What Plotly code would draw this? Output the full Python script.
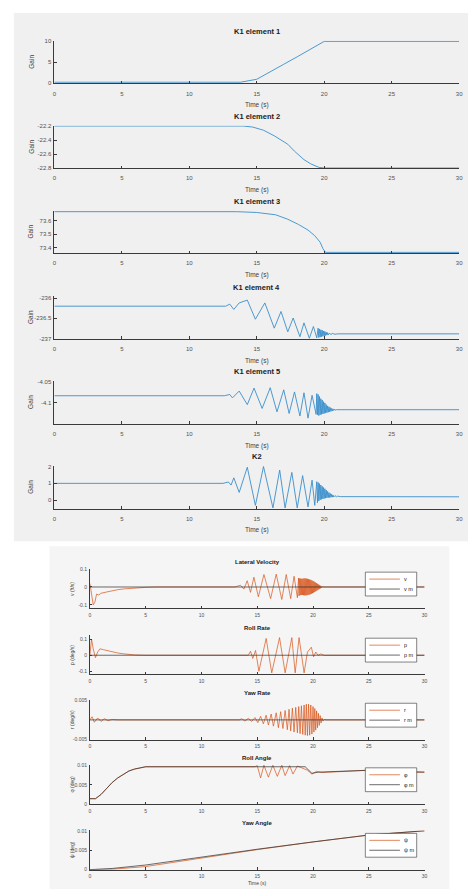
import plotly.graph_objects as go

W, H = 475, 892

# ---------------- data ----------------
x_ticks = [0, 5, 10, 15, 20, 25, 30]

k1e1_t = [0, 13.8, 15, 16, 17, 18, 19, 20, 30]
k1e1_v = [0.2, 0.2, 0.9, 2.8, 4.5, 6.3, 8.1, 10, 10]

k1e2_t = [0, 14.0, 14.7, 15.5, 16.3, 17.3, 17.8, 18.5, 19.0, 19.6, 20.0, 30]
k1e2_v = [-22.2, -22.2, -22.215, -22.26, -22.34, -22.46, -22.56, -22.68, -22.74, -22.79, -22.8, -22.8]

k1e3_t = [0, 13.5, 15.0, 16.4, 17.3, 18.1, 18.8, 19.3, 19.7, 19.9, 20.1, 30]
k1e3_v = [73.666, 73.666, 73.66, 73.643, 73.61, 73.571, 73.53, 73.488, 73.44, 73.393, 73.365, 73.365]

k1e4_t = [0, 12.7, 13.0, 13.3, 13.7, 14.3, 14.9, 15.6, 16.3, 16.8, 17.3, 17.7, 18.2, 18.5, 18.9,
          19.2, 19.45, 19.55, 19.6, 19.65, 19.7, 19.75, 19.8, 19.85, 19.9, 19.95, 20.0, 20.05,
          20.1, 20.15, 20.2, 20.25, 20.3, 20.4, 20.5, 20.6, 20.8, 21.0, 30]
k1e4_v = [-236.2, -236.2, -236.15, -236.28, -236.12, -236.05, -236.52, -236.12, -236.74, -236.33,
          -236.83, -236.49, -236.95, -236.61, -236.99, -236.70, -236.98, -236.74, -236.97, -236.76,
          -236.96, -236.78, -236.95, -236.79, -236.94, -236.81, -236.93, -236.82, -236.92, -236.84,
          -236.91, -236.85, -236.905, -236.86, -236.9, -236.87, -236.89, -236.88, -236.88]

k1e5_t = [0, 12.6, 13.0, 13.2, 13.7, 14.3, 14.8, 15.4, 16.0, 16.5, 17.0, 17.4, 17.8, 18.2, 18.5,
          18.8, 19.1, 19.4, 19.45, 19.5, 19.55, 19.6, 19.65, 19.7, 19.75, 19.8, 19.85, 19.9, 19.95,
          20.0, 20.05, 20.1, 20.15, 20.2, 20.25, 20.3, 20.35, 20.4, 20.45, 20.5, 20.55, 20.6, 20.65,
          20.7, 20.75, 20.8, 20.9, 30]
k1e5_v = [-4.083, -4.083, -4.080, -4.088, -4.072, -4.104, -4.065, -4.113, -4.064, -4.121, -4.069,
          -4.125, -4.074, -4.131, -4.076, -4.136, -4.082, -4.127, -4.078, -4.128, -4.080, -4.130,
          -4.085, -4.128, -4.090, -4.127, -4.093, -4.126, -4.097, -4.125, -4.100, -4.124, -4.104,
          -4.123, -4.107, -4.122, -4.109, -4.121, -4.111, -4.120, -4.113, -4.119, -4.114, -4.118,
          -4.115, -4.117, -4.116, -4.116]

k2_t = [0, 12.5, 12.9, 13.1, 13.3, 13.7, 14.3, 14.9, 15.5, 16.2, 16.7, 17.1, 17.6, 18.0, 18.4,
        18.8, 19.1, 19.3, 19.45, 19.5, 19.55, 19.6, 19.65, 19.7, 19.75, 19.8, 19.85, 19.9, 19.95,
        20.0, 20.05, 20.1, 20.15, 20.2, 20.25, 20.3, 20.35, 20.4, 20.45, 20.5, 20.55, 20.6, 20.65,
        20.7, 20.8, 20.9, 21.0, 21.2, 30]
k2_v = [1.0, 1.0, 1.08, 0.9, 1.33, 0.46, 1.96, -0.31, 2.0, -0.46, 1.79, -0.46, 1.65, -0.46, 1.46,
        -0.40, 1.19, -0.31, 1.1, -0.15, 1.05, -0.05, 0.98, 0.02, 0.9, 0.05, 0.82, 0.08, 0.75, 0.1,
        0.68, 0.12, 0.6, 0.14, 0.52, 0.15, 0.45, 0.16, 0.4, 0.17, 0.35, 0.18, 0.31, 0.19, 0.27,
        0.2, 0.24, 0.21, 0.2]

lv_t = [0, 0.15, 0.3, 0.45, 0.6, 0.8, 1.0, 1.5, 2, 2.5, 3, 3.5, 4, 5, 6, 13.0, 13.5, 13.8, 14.1,
        14.4, 14.7, 15.1, 15.6, 16.2, 16.7, 17.2, 17.6, 18.0, 18.3, 18.6, 18.7, 18.75, 18.8, 18.85,
        18.9, 18.95, 19.0, 19.05, 19.1, 19.15, 19.2, 19.25, 19.3, 19.35, 19.4, 19.45, 19.5, 19.55,
        19.6, 19.65, 19.7, 19.75, 19.8, 19.85, 19.9, 19.95, 20.0, 20.05, 20.1, 20.15, 20.2, 20.25,
        20.3, 20.35, 20.4, 20.45, 20.5, 20.55, 20.6, 20.65, 20.7, 20.75, 20.8, 20.9, 30]
lv_v = [0.02, -0.03, -0.1, -0.085, -0.04, -0.045, -0.035, -0.028, -0.02, -0.015, -0.011, -0.008,
        -0.005, -0.002, 0, 0, 0.01, -0.012, 0.035, -0.03, 0.055, -0.055, 0.07, -0.065, 0.072, -0.07,
        0.07, -0.065, 0.06, -0.06, 0.05, -0.05, 0.048, -0.046, 0.047, -0.045, 0.046, -0.045, 0.047,
        -0.046, 0.048, -0.047, 0.048, -0.047, 0.047, -0.046, 0.046, -0.045, 0.044, -0.043, 0.042,
        -0.041, 0.04, -0.038, 0.037, -0.035, 0.034, -0.032, 0.03, -0.028, 0.026, -0.024, 0.022,
        -0.02, 0.018, -0.016, 0.014, -0.012, 0.01, -0.008, 0.006, -0.004, 0.002, 0, 0]
lv_ref_t = [0, 30]
lv_ref_v = [0, 0]

rr_t = [0, 0.15, 0.3, 0.5, 0.7, 0.9, 1.2, 1.6, 2.0, 2.5, 3.0, 3.5, 4.0, 5, 14.2, 14.4, 14.6, 14.85,
        15.15, 15.8, 16.3, 17.0, 17.5, 18.1, 18.4, 18.75, 19.2, 19.5, 19.85, 20.05, 20.25, 20.45,
        20.7, 21, 30]
rr_v = [0, 0.1, 0.04, -0.015, 0.02, 0.04, 0.035, 0.028, 0.02, 0.014, 0.009, 0.005, 0.002, 0, 0,
        0.025, -0.02, 0.03, -0.1, 0.105, -0.11, 0.11, -0.11, 0.11, -0.11, 0.11, -0.11, 0.02, 0.05,
        -0.01, 0.02, 0.0, 0.008, 0, 0]
rr_ref_t = [0, 30]
rr_ref_v = [0, 0]

yr_t = [0, 0.2, 0.4, 0.7, 1.0, 1.3, 1.6, 2.0, 2.5, 13.4, 13.6, 13.9, 14.2, 14.5, 14.8, 15.05, 15.3,
        15.55, 15.8, 16.0, 16.25, 16.45, 16.7, 16.9, 17.1, 17.3, 17.5, 17.7, 17.85, 18.0, 18.15,
        18.3, 18.45, 18.6, 18.72, 18.84, 18.96, 19.08, 19.2, 19.3, 19.4, 19.5, 19.6, 19.7, 19.8,
        19.9, 20.0, 20.08, 20.16, 20.24, 20.32, 20.4, 20.48, 20.56, 20.64, 20.72, 20.8, 20.9, 21.0,
        21.2, 30]
yr_v = [0, 0.0008, -0.0006, 0.0005, -0.0004, 0.0003, -0.0002, 0.0001, 0, 0, 0.0003, -0.0003,
        0.0004, -0.0004, 0.0006, -0.0007, 0.0009, -0.001, 0.0012, -0.0013, 0.0015, -0.0016, 0.0018,
        -0.002, 0.0021, -0.0022, 0.0024, -0.0025, 0.0027, -0.0028, 0.003, -0.0031, 0.0032, -0.0033,
        0.0034, -0.0035, 0.0036, -0.0037, 0.0038, -0.0039, 0.004, -0.004, 0.004, -0.0039, 0.0038,
        -0.0036, 0.0034, -0.0031, 0.0029, -0.0026, 0.0023, -0.002, 0.0017, -0.0014, 0.0011,
        -0.0008, 0.0005, -0.0003, 0.0001, 0, 0]
yr_ref_t = [0, 30]
yr_ref_v = [0, 0]

ra_t = [0, 0.5, 1.0, 1.5, 2.0, 2.5, 3.0, 3.5, 4.0, 4.5, 5.0, 14.8, 15.0, 15.3, 15.6, 16.0, 16.4,
        16.8, 17.2, 17.5, 17.9, 18.2, 18.6, 19.0, 19.3, 19.5, 19.9, 20.3, 20.8, 22, 25, 27, 28, 30]
ra_v = [0.0014, 0.0014, 0.0025, 0.0042, 0.0056, 0.0068, 0.0078, 0.0086, 0.0091, 0.0095, 0.0097,
        0.0097, 0.0100, 0.0068, 0.0101, 0.0070, 0.0101, 0.0072, 0.0101, 0.0074, 0.0100, 0.0078,
        0.0099, 0.0094, 0.0090, 0.0088, 0.0078, 0.0085, 0.0082, 0.0084, 0.0088, 0.0088, 0.0082,
        0.0083]
ra_ref_t = [0, 0.5, 1.0, 1.5, 2.0, 2.5, 3.0, 3.5, 4.0, 4.5, 5.0, 19.3, 19.9, 20.5, 25, 30]
ra_ref_v = [0.0014, 0.0014, 0.0025, 0.0042, 0.0056, 0.0068, 0.0078, 0.0086, 0.0091, 0.0095,
            0.0097, 0.0097, 0.0080, 0.0083, 0.0088, 0.0083]

ya_t = [0, 2, 5, 10, 15, 20, 25, 30]
ya_v = [0, 0.0001, 0.0008, 0.0030, 0.0052, 0.0072, 0.0090, 0.0101]
ya_ref_t = [0, 2, 5, 10, 15, 20, 25, 30]
ya_ref_v = [0, 0.0003, 0.0012, 0.0033, 0.0053, 0.0072, 0.0090, 0.0101]

# ---------------- styling / layout helpers ----------------
FONT = "Liberation Sans"
AX = "#3a3a3a"
BLUE = "#3a8fcc"
ORANGE = "#d95319"
DARK = "#2b2b2b"


def px_x(x):
    return x / W


def px_y(y):
    return 1 - y / H


fig = go.Figure()
shapes = []
annotations = []
layout = {}

# figure backgrounds
shapes.append(dict(type="rect", xref="paper", yref="paper", x0=px_x(12), x1=px_x(472),
                   y0=px_y(542), y1=px_y(10), fillcolor="#f0f0f0", line_width=0, layer="below"))
shapes.append(dict(type="rect", xref="paper", yref="paper", x0=px_x(48), x1=px_x(453),
                   y0=px_y(892), y1=px_y(547), fillcolor="#f5f5f5", line_width=0, layer="below"))

top_panels = [
    ("K1 element 1", [(k1e1_t, k1e1_v, BLUE)], [-0.1, 10.15], [0, 5, 10], ["0", "5", "10"], 38),
    ("K1 element 2", [(k1e2_t, k1e2_v, BLUE)], [-22.805, -22.195], [-22.8, -22.6, -22.4, -22.2],
     ["-22.8", "-22.6", "-22.4", "-22.2"], 123.5),
    ("K1 element 3", [(k1e3_t, k1e3_v, BLUE)], [73.358, 73.674], [73.4, 73.5, 73.6],
     ["73.4", "73.5", "73.6"], 209),
    ("K1 element 4", [(k1e4_t, k1e4_v, BLUE)], [-237.0, -235.95], [-237, -236.5, -236],
     ["-237", "-236.5", "-236"], 295),
    ("K1 element 5", [(k1e5_t, k1e5_v, BLUE)], [-4.149, -4.048], [-4.15, -4.1, -4.05],
     ["-4.15", "-4.1", "-4.05"], 380.5),
    ("K2", [(k2_t, k2_v, BLUE)], [-0.5, 2.04], [0, 1, 2], ["0", "1", "2"], 466),
]

bottom_panels = [
    ("Lateral Velocity", "v (ft/s)", [(lv_t, lv_v, ORANGE), (lv_ref_t, lv_ref_v, DARK)],
     [-0.12, 0.1], [-0.1, 0, 0.1], ["-0.1", "0", "0.1"], 570, ("v", "v m")),
    ("Roll Rate", "p (deg/s)", [(rr_t, rr_v, ORANGE), (rr_ref_t, rr_ref_v, DARK)],
     [-0.12, 0.125], [-0.1, 0, 0.1], ["-0.1", "0", "0.1"], 636.5, ("p", "p m")),
    ("Yaw Rate", "r (deg/s)", [(yr_t, yr_v, ORANGE), (yr_ref_t, yr_ref_v, DARK)],
     [-0.005, 0.005], [-0.005, 0.005], ["-0.005", "0.005"], 702, ("r", "r m")),
    ("Roll Angle", "\u03c6 (deg)", [(ra_t, ra_v, ORANGE), (ra_ref_t, ra_ref_v, DARK)],
     [0, 0.0102], [0, 0.005, 0.01], ["0", "0.005", "0.01"], 767, ("\u03c6", "\u03c6 m")),
    ("Yaw Angle", "\u03c8 (deg)", [(ya_t, ya_v, ORANGE), (ya_ref_t, ya_ref_v, DARK)],
     [0, 0.0102], [0, 0.005, 0.01], ["0", "0.005", "0.01"], 833, ("\u03c8", "\u03c8 m")),
]


def axis_style(fs):
    return dict(showline=True, linecolor=AX, linewidth=0.7, ticks="inside", ticklen=2.5,
                tickwidth=0.6, tickcolor=AX, showgrid=False, zeroline=False, mirror=False,
                tickfont=dict(family=FONT, size=fs, color="#505050"), fixedrange=True)


idx = 0
# ---- top MATLAB figure ----
XL, XR, PH = 53, 463, 43
for title, series, yr, yt, ytt, top in top_panels:
    idx += 1
    xa = "xaxis" if idx == 1 else f"xaxis{idx}"
    ya = "yaxis" if idx == 1 else f"yaxis{idx}"
    xr = "x" if idx == 1 else f"x{idx}"
    yrf = "y" if idx == 1 else f"y{idx}"
    bottom = top + PH
    layout[xa] = dict(domain=[px_x(XL), px_x(XR)], anchor=yrf, range=[0, 30], tickvals=x_ticks,
                      ticklabelstandoff=4, **axis_style(6))
    layout[ya] = dict(domain=[px_y(bottom), px_y(top)], anchor=xr, range=yr, tickvals=yt,
                      ticktext=ytt, ticklabelstandoff=1, **axis_style(6))
    for t, v, c in series:
        fig.add_trace(go.Scatter(x=t, y=v, mode="lines", line=dict(color=c, width=0.9),
                                 xaxis=xr, yaxis=yrf, hoverinfo="skip"))
    annotations.append(dict(text=f"<b>{title}</b>", xref="paper", yref="paper",
                            x=px_x((XL + XR) / 2), y=px_y(top - 2.5), xanchor="center",
                            yanchor="bottom", showarrow=False,
                            font=dict(family=FONT, size=7.5, color="#202020")))
    annotations.append(dict(text="Time (s)", xref="paper", yref="paper",
                            x=px_x((XL + XR) / 2), y=px_y(bottom + 22), xanchor="center",
                            yanchor="middle", showarrow=False,
                            font=dict(family=FONT, size=6.5, color="#404040")))
    annotations.append(dict(text="Gain", xref="paper", yref="paper", x=px_x(29),
                            y=px_y((top + bottom) / 2), xanchor="center", yanchor="middle",
                            textangle=-90, showarrow=False,
                            font=dict(family=FONT, size=6.5, color="#404040")))

# ---- bottom figure ----
BXL, BXR, BPH = 89, 428, 39.5
nb = len(bottom_panels)
for k, (title, ylab, series, yr, yt, ytt, top, leg) in enumerate(bottom_panels):
    idx += 1
    xa, ya = f"xaxis{idx}", f"yaxis{idx}"
    xr, yrf = f"x{idx}", f"y{idx}"
    bottom = top + BPH
    layout[xa] = dict(domain=[px_x(BXL), px_x(BXR)], anchor=yrf, range=[0, 30], tickvals=x_ticks,
                      ticklabelstandoff=2, **axis_style(5))
    layout[ya] = dict(domain=[px_y(bottom), px_y(top)], anchor=xr, range=yr, tickvals=yt,
                      ticktext=ytt, ticklabelstandoff=1, **axis_style(5))
    for t, v, c in series:
        fig.add_trace(go.Scatter(x=t, y=v, mode="lines", line=dict(color=c, width=0.7),
                                 xaxis=xr, yaxis=yrf, hoverinfo="skip"))
    annotations.append(dict(text=f"<b>{title}</b>", xref="paper", yref="paper",
                            x=px_x((BXL + BXR) / 2), y=px_y(top - 2), xanchor="center",
                            yanchor="bottom", showarrow=False,
                            font=dict(family=FONT, size=6, color="#202020")))
    annotations.append(dict(text=ylab, xref="paper", yref="paper", x=px_x(71),
                            y=px_y((top + bottom) / 2), xanchor="center", yanchor="middle",
                            textangle=-90, showarrow=False,
                            font=dict(family=FONT, size=5, color="#404040")))
    if k == nb - 1:
        annotations.append(dict(text="Time (s)", xref="paper", yref="paper",
                                x=px_x((BXL + BXR) / 2), y=px_y(886), xanchor="center",
                                yanchor="middle", showarrow=False,
                                font=dict(family=FONT, size=5, color="#404040")))
    # legend box (decoration)
    lx0, lx1 = 368, 420
    ly0, ly1 = top + 3, top + 27
    shapes.append(dict(type="rect", xref="paper", yref="paper", x0=px_x(lx0), x1=px_x(lx1),
                       y0=px_y(ly1), y1=px_y(ly0), fillcolor="white",
                       line=dict(color="#333333", width=0.6), layer="above"))
    for j, (lab, col) in enumerate(zip(leg, (ORANGE, DARK))):
        yy = ly0 + 7 + 10 * j
        shapes.append(dict(type="line", xref="paper", yref="paper", x0=px_x(372), x1=px_x(403),
                           y0=px_y(yy), y1=px_y(yy), line=dict(color=col, width=0.7),
                           layer="above"))
        annotations.append(dict(text=lab, xref="paper", yref="paper", x=px_x(405),
                                y=px_y(yy), xanchor="left", yanchor="middle", showarrow=False,
                                font=dict(family=FONT, size=5.5, color="#202020")))

fig.update_layout(width=W, height=H, margin=dict(l=0, r=0, t=0, b=0), paper_bgcolor="white",
                  plot_bgcolor="white", showlegend=False, shapes=shapes, annotations=annotations,
                  **layout)
fig.write_html("out.html", config={"displayModeBar": False},
               post_script="document.body.style.margin='0';")
